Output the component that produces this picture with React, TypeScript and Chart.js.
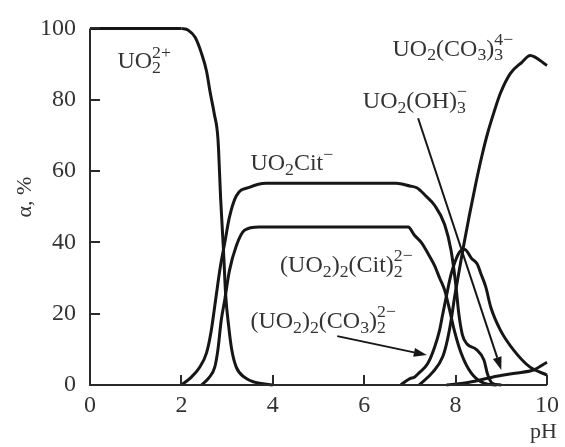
import React, { useEffect, useRef } from "react";
import { Chart, registerables } from "chart.js";
Chart.register(...registerables);

// ---- data (pH vs fraction α, %) ----
const PH_UO2 = [2.0, 2.15, 2.3, 2.44, 2.55, 2.63, 2.72, 2.8, 2.86, 2.92, 2.97, 3.03, 3.1, 3.2, 3.4, 3.6, 4.0];
const A_UO2 = [100, 99.5, 97.5, 93, 88, 82, 76, 69, 52, 38, 25, 17, 10, 5, 2, 0.8, 0];
const PH_UO2_FLAT = [0, 2.0];
const A_UO2_FLAT = [100, 100];

const PH_CIT = [2.0, 2.2, 2.4, 2.55, 2.65, 2.75, 2.85, 2.95, 3.05, 3.2, 3.5, 3.85, 6.7, 7.0, 7.15, 7.35, 7.54, 7.76, 7.9, 8.0, 8.07, 8.15, 8.25, 8.45, 8.62, 8.7, 8.8, 9.0];
const A_CIT = [0, 2, 5, 9, 15, 24, 33, 40, 47, 53, 55.5, 56.6, 56.6, 55.8, 55.3, 53, 50.4, 45, 37.8, 28.6, 20, 14, 11.5, 10, 7, 3, 0.5, 0];

const PH_CIT2 = [2.44, 2.6, 2.73, 2.8, 2.87, 2.95, 3.05, 3.2, 3.38, 3.7, 6.96, 7.1, 7.26, 7.39, 7.54, 7.65, 7.76, 7.87, 7.97, 8.12, 8.34, 8.62, 8.9];
const A_CIT2 = [0, 2, 5, 10, 18, 24, 32, 39, 43.4, 44.3, 44.3, 42, 39.8, 37, 33.5, 30, 26.6, 21, 15.4, 9, 3.4, 0.5, 0];

const PH_CO3_2 = [6.8, 6.9, 7.0, 7.1, 7.2, 7.39, 7.54, 7.65, 7.72, 7.8, 7.9, 8.0, 8.1, 8.2, 8.35, 8.47, 8.56, 8.66, 8.77, 8.98, 9.27, 9.63, 10];
const A_CO3_2 = [0, 1, 1.8, 2.2, 3.4, 6, 10.6, 15.4, 20, 25, 31, 35, 37.5, 38, 35.5, 34, 31, 27.5, 21.8, 15.4, 9.8, 5, 2.8];

const PH_CO3_3 = [7.2, 7.5, 7.72, 7.82, 7.9, 7.97, 8.05, 8.17, 8.3, 8.45, 8.58, 8.7, 8.84, 8.98, 9.2, 9.45, 9.63, 10];
const A_CO3_3 = [0, 3.6, 8, 12.6, 18, 24, 30, 38.7, 47.5, 57, 64.5, 70.6, 76.5, 81.8, 87.4, 90.5, 92.4, 89.6];

const PH_OH3 = [7.8, 8.3, 8.8, 9.3, 9.7, 10];
const A_OH3 = [0, 0.8, 2.2, 3.3, 4.2, 6.4];

const X_TICKS = [0, 2, 4, 6, 8, 10];
const Y_TICKS = [0, 20, 40, 60, 80, 100];

// ---- labels (rich text), anchored at data coordinates ----
type Seg = { t: string; k?: "sub" | "sup" | "both"; s?: string };
const LABELS: { x: number; y: number; segs: Seg[] }[] = [
  { x: 0.6, y: 88.8, segs: [{ t: "UO" }, { t: "2", k: "both", s: "2+" }] },
  { x: 3.51, y: 60.2, segs: [{ t: "UO" }, { t: "2", k: "sub" }, { t: "Cit" }, { t: "", k: "sup", s: "−" }] },
  { x: 4.16, y: 31.7, segs: [{ t: "(UO" }, { t: "2", k: "sub" }, { t: ")" }, { t: "2", k: "sub" }, { t: "(Cit)" }, { t: "2", k: "both", s: "2−" }] },
  { x: 3.51, y: 16.0, segs: [{ t: "(UO" }, { t: "2", k: "sub" }, { t: ")" }, { t: "2", k: "sub" }, { t: "(CO" }, { t: "3", k: "sub" }, { t: ")" }, { t: "2", k: "both", s: "2−" }] },
  { x: 6.62, y: 92.4, segs: [{ t: "UO" }, { t: "2", k: "sub" }, { t: "(CO" }, { t: "3", k: "sub" }, { t: ")" }, { t: "3", k: "both", s: "4−" }] },
  { x: 5.97, y: 77.6, segs: [{ t: "UO" }, { t: "2", k: "sub" }, { t: "(OH)" }, { t: "3", k: "both", s: "−" }] },
];
const ARROWS = [
  { x1: 5.41, y1: 13.7, x2: 7.37, y2: 8.4 },
  { x1: 7.18, y1: 74.8, x2: 9.0, y2: 4.2 },
];

const FAMILY = '"Liberation Serif", "Times New Roman", Times, serif';
const TEXT = "#333";
const LINE = "#161616";

function pts(xs: number[], ys: number[]) {
  return xs.map((x, i) => ({ x, y: ys[i] }));
}

function drawRich(ctx: CanvasRenderingContext2D, segs: Seg[], x: number, y: number, size: number) {
  let cx = x;
  const small = size * 0.74;
  for (const s of segs) {
    if (!s.k) {
      ctx.font = `${size}px ${FAMILY}`;
      ctx.fillText(s.t, cx, y);
      cx += ctx.measureText(s.t).width;
    } else {
      ctx.font = `${small}px ${FAMILY}`;
      let w = 0;
      if (s.k === "sub" || s.k === "both") {
        ctx.fillText(s.t, cx, y + size * 0.2);
        w = Math.max(w, ctx.measureText(s.t).width);
      }
      if ((s.k === "sup" || s.k === "both") && s.s) {
        ctx.fillText(s.s, cx, y - size * 0.45);
        w = Math.max(w, ctx.measureText(s.s).width);
      }
      cx += w;
    }
  }
}

const overlay = {
  id: "overlay",
  afterDraw(chart: any) {
    const { ctx, chartArea: a, scales } = chart;
    const xs = scales.x, ys = scales.y;
    ctx.save();
    ctx.strokeStyle = "#2a2a2a";
    ctx.lineWidth = 2;
    ctx.beginPath();
    ctx.moveTo(a.left, a.top);
    ctx.lineTo(a.left, a.bottom);
    ctx.lineTo(a.right, a.bottom);
    ctx.stroke();
    ctx.beginPath();
    for (const v of X_TICKS.slice(1)) {
      const px = Math.round(xs.getPixelForValue(v));
      ctx.moveTo(px, a.bottom);
      ctx.lineTo(px, a.bottom - 10);
    }
    for (const v of Y_TICKS.slice(1)) {
      const py = Math.round(ys.getPixelForValue(v));
      ctx.moveTo(a.left, py);
      ctx.lineTo(a.left + 10, py);
    }
    ctx.stroke();
    ctx.strokeStyle = LINE;
    ctx.fillStyle = LINE;
    ctx.lineWidth = 2;
    for (const ar of ARROWS) {
      const x1 = xs.getPixelForValue(ar.x1), y1 = ys.getPixelForValue(ar.y1);
      const x2 = xs.getPixelForValue(ar.x2), y2 = ys.getPixelForValue(ar.y2);
      const ang = Math.atan2(y2 - y1, x2 - x1);
      const L = 13, W = 4.5;
      const bx = x2 - L * Math.cos(ang), by = y2 - L * Math.sin(ang);
      ctx.beginPath();
      ctx.moveTo(x1, y1);
      ctx.lineTo(bx, by);
      ctx.stroke();
      ctx.beginPath();
      ctx.moveTo(x2, y2);
      ctx.lineTo(bx + W * Math.sin(ang), by - W * Math.cos(ang));
      ctx.lineTo(bx - W * Math.sin(ang), by + W * Math.cos(ang));
      ctx.closePath();
      ctx.fill();
    }
    ctx.fillStyle = TEXT;
    ctx.textAlign = "left";
    ctx.textBaseline = "alphabetic";
    for (const lb of LABELS) {
      drawRich(ctx, lb.segs, xs.getPixelForValue(lb.x), ys.getPixelForValue(lb.y), 24);
    }
    ctx.font = `22px ${FAMILY}`;
    ctx.textAlign = "right";
    ctx.fillText("pH", 557, 438);
    ctx.translate(25, 197);
    ctx.rotate(-Math.PI / 2);
    ctx.textAlign = "center";
    ctx.textBaseline = "middle";
    ctx.fillText("α, %", 0, 0);
    ctx.restore();
  },
};

export default function App() {
  const ref = useRef<HTMLCanvasElement>(null);
  useEffect(() => {
    document.body.style.margin = "0";
    let chart: Chart | null = null;
    let cancelled = false;
    const line = (xs: number[], ys: number[]) => ({
      data: pts(xs, ys),
      borderColor: LINE,
      borderWidth: 3,
      pointRadius: 0,
      fill: false,
      clip: false as any,
      cubicInterpolationMode: "monotone" as const,
    });
    const build = () => {
      if (cancelled || !ref.current) return;
      chart = new Chart(ref.current, {
        type: "line",
        data: {
          datasets: [
            line(PH_UO2_FLAT, A_UO2_FLAT),
            line(PH_UO2, A_UO2),
            line(PH_CIT, A_CIT),
            line(PH_CIT2, A_CIT2),
            line(PH_CO3_2, A_CO3_2),
            line(PH_CO3_3, A_CO3_3),
            line(PH_OH3, A_OH3),
          ],
        },
        options: {
          responsive: false,
          animation: false,
          devicePixelRatio: 1,
          layout: { padding: { top: 28, right: 10, left: 0, bottom: 0 } },
          plugins: { legend: { display: false }, tooltip: { enabled: false } },
          scales: {
            x: {
              type: "linear",
              min: 0,
              max: 10,
              afterBuildTicks: (s: any) => { s.ticks = X_TICKS.map((v) => ({ value: v })); },
              ticks: { font: { family: FAMILY, size: 24 }, color: TEXT, padding: 6 },
              grid: { display: false, drawTicks: false },
              border: { display: false },
              afterFit: (s: any) => { s.height = 62; },
            },
            y: {
              type: "linear",
              min: 0,
              max: 100,
              afterBuildTicks: (s: any) => { s.ticks = Y_TICKS.map((v) => ({ value: v })); },
              ticks: { font: { family: FAMILY, size: 24 }, color: TEXT, padding: 14 },
              grid: { display: false, drawTicks: false },
              border: { display: false },
              afterFit: (s: any) => { s.width = 90; },
            },
          },
        },
        plugins: [overlay],
      } as any);
    };
    const fonts: any = (document as any).fonts;
    if (fonts && fonts.load) {
      Promise.all([
        fonts.load('24px "Liberation Serif"'),
        fonts.load('22px "Liberation Serif"'),
      ]).then(build, build);
    } else {
      build();
    }
    return () => {
      cancelled = true;
      if (chart) chart.destroy();
    };
  }, []);
  return (
    <div style={{ width: 565, height: 447 }}>
      <canvas ref={ref} width={565} height={447} style={{ display: "block" }} />
    </div>
  );
}
